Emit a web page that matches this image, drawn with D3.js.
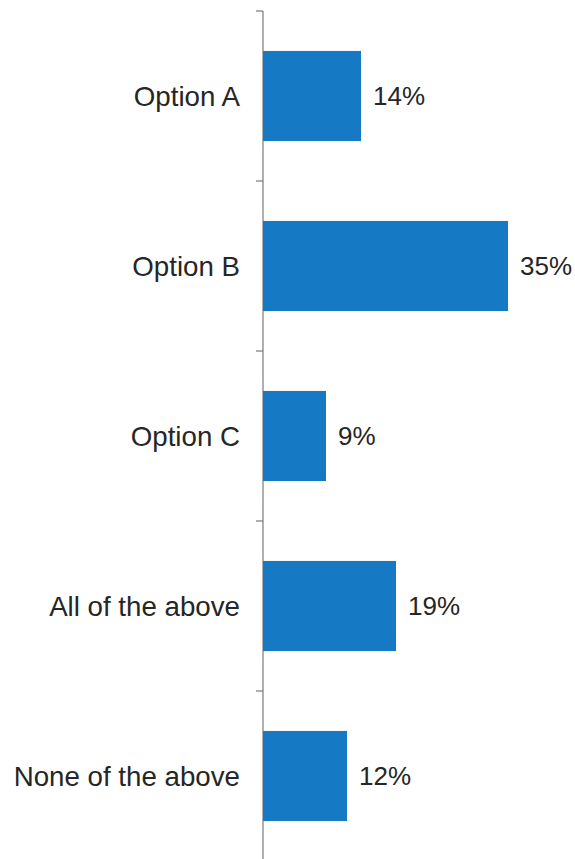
<!DOCTYPE html>
<html>
<head>
<meta charset="utf-8">
<script src="https://cdn.jsdelivr.net/npm/d3@7"></script>
<style>
body { margin: 0; background: #fff; }
text { font-family: "Liberation Sans", Arial, sans-serif; fill: #262626; }
</style>
</head>
<body>
<div id="chart_div"></div>
<script>
var categories = ['Option A', 'Option B', 'Option C', 'All of the above', 'None of the above'];
var values = [14, 35, 9, 19, 12];

var width = 575, height = 859;
var axisX = 263;

var svg = d3.select('#chart_div')
	.append('svg')
	.attr('width', width)
	.attr('height', height);

var x = d3.scaleLinear()
	.domain([0, 35])
	.range([axisX, 508]);

var y = d3.scaleBand()
	.domain(categories)
	.range([11, 861])
	.paddingInner(0.47)
	.paddingOuter(0.235);

var gap = (y.step() - y.bandwidth()) / 2;

// axis line
svg.append('line')
	.attr('x1', axisX).attr('x2', axisX)
	.attr('y1', 11).attr('y2', height)
	.style('stroke', '#7a7a7a')
	.style('stroke-width', 1.2);

// tick marks between categories
var tickYs = categories.map(function(c) { return y(c) - gap; });
tickYs.push(y(categories[categories.length - 1]) + y.bandwidth() + gap);
svg.selectAll('.tick')
	.data(tickYs)
	.enter()
	.append('line')
	.attr('class', 'tick')
	.attr('x1', axisX - 7).attr('x2', axisX)
	.attr('y1', function(d) { return d; })
	.attr('y2', function(d) { return d; })
	.style('stroke', '#7a7a7a')
	.style('stroke-width', 1.2);

var data = categories.map(function(c, i) { return {cat: c, value: values[i]}; });

svg.selectAll('.bar')
	.data(data)
	.enter()
	.append('rect')
	.attr('class', 'bar')
	.attr('x', x(0))
	.attr('y', function(d) { return y(d.cat); })
	.attr('width', function(d) { return x(d.value) - x(0); })
	.attr('height', y.bandwidth())
	.style('fill', '#1679c4');

svg.selectAll('.cat')
	.data(data)
	.enter()
	.append('text')
	.attr('class', 'cat')
	.attr('x', axisX - 23)
	.attr('y', function(d) { return y(d.cat) + y.bandwidth() / 2; })
	.attr('dy', '0.36em')
	.attr('text-anchor', 'end')
	.style('font-size', '27.7px')
	.text(function(d) { return d.cat; });

svg.selectAll('.val')
	.data(data)
	.enter()
	.append('text')
	.attr('class', 'val')
	.attr('x', function(d) { return x(d.value) + 12; })
	.attr('y', function(d) { return y(d.cat) + y.bandwidth() / 2; })
	.attr('dy', '0.36em')
	.style('font-size', '26px')
	.text(function(d) { return d.value + '%'; });
</script>
</body>
</html>
